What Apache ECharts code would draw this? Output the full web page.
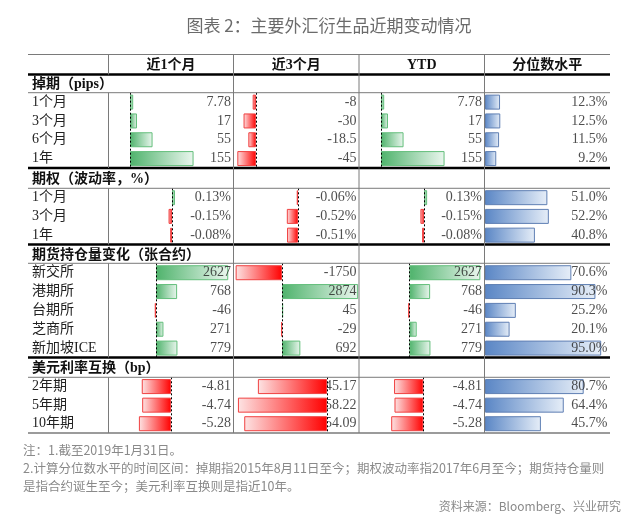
<!DOCTYPE html>
<html>
<head>
<meta charset="utf-8">
<script src="https://cdn.jsdelivr.net/npm/echarts@6/dist/echarts.min.js"></script>
<style>
  html, body { margin: 0; padding: 0; background: #fff; }
  #main { width: 640px; height: 521px; }
</style>
</head>
<body>
<div id="main"></div>
<script>
// 表头
var colHeads = ['近1个月', '近3个月', 'YTD', '分位数水平'];

// 掉期（pips）
var swapRows = ['1个月', '3个月', '6个月', '1年'];
var swap1m = [7.78, 17, 55, 155];
var swap3m = [-8, -30, -18.5, -45];
var swapYtd = [7.78, 17, 55, 155];
var swapPct = [12.3, 12.5, 11.5, 9.2];

// 期权（波动率，%）
var optRows = ['1个月', '3个月', '1年'];
var opt1m = [0.13, -0.15, -0.08];
var opt3m = [-0.06, -0.52, -0.51];
var optYtd = [0.13, -0.15, -0.08];
var optPct = [51.0, 52.2, 40.8];

// 期货持仓量变化（张合约）
var futRows = ['新交所', '港期所', '台期所', '芝商所', '新加坡ICE'];
var fut1m = [2627, 768, -46, 271, 779];
var fut3m = [-1750, 2874, 45, -29, 692];
var futYtd = [2627, 768, -46, 271, 779];
var futPct = [70.6, 90.3, 25.2, 20.1, 95.0];

// 美元利率互换（bp）
var irsRows = ['2年期', '5年期', '10年期'];
var irs1m = [-4.81, -4.74, -5.28];
var irs3m = [-45.17, -58.22, -54.09];
var irsYtd = [-4.81, -4.74, -5.28];
var irsPct = [80.7, 64.4, 45.7];

var notes = [
  '注：1.截至2019年1月31日。',
  '2.计算分位数水平的时间区间：掉期指2015年8月11日至今；期权波动率指2017年6月至今；期货持仓量则',
  '是指合约诞生至今；美元利率互换则是指近10年。'
];
var source = '资料来源：Bloomberg、兴业研究';

// 版式
var colX = [108.5, 233.5, 359, 484.5, 610];
var tableL = 28;
var serif = "'Liberation Serif', 'Noto Sans CJK SC', serif";
var sans = "'Noto Sans CJK SC', sans-serif";

var sections = [
  { name: '掉期（pips）', hdrY: 84.5, top: 92.7, bottom: 168,
    rows: swapRows, cols: [swap1m, swap3m, swapYtd, swapPct],
    fmt: function (v) { return String(v); },
    zero: [130, 256, 381], scale: [0.41, 0.415, 0.41] },
  { name: '期权（波动率，%）', hdrY: 179.5, top: 188.3, bottom: 244.5,
    rows: optRows, cols: [opt1m, opt3m, optYtd, optPct],
    fmt: function (v) { return v.toFixed(2) + '%'; },
    zero: [172, 298, 424], scale: [23, 21.5, 24] },
  { name: '期货持仓量变化（张合约）', hdrY: 255.5, top: 263.3, bottom: 357.5,
    rows: futRows, cols: [fut1m, fut3m, futYtd, futPct],
    fmt: function (v) { return String(v); },
    zero: [156, 282, 409.4], scale: [0.0275, 0.0265, 0.027] },
  { name: '美元利率互换（bp）', hdrY: 368, top: 377.3, bottom: 433,
    rows: irsRows, cols: [irs1m, irs3m, irsYtd, irsPct],
    fmt: function (v) { return v.toFixed(2); },
    zero: [171, 327, 423.4], scale: [6.08, 1.53, 6.1], under: 1 }
];

function grad(c1, c2) {
  return new echarts.graphic.LinearGradient(0, 0, 1, 0, [
    { offset: 0, color: c1 }, { offset: 1, color: c2 }
  ]);
}

function barStyle(v, c) {
  if (c === 3) {
    return { color: grad('#5a86c5', '#e6eef8'), borderColor: '#5f7fb3', borderWidth: 1 };
  }
  if (v >= 0) {
    return { color: grad('#4fb36c', '#eaf6ee'), borderColor: '#63be7b', borderWidth: 1 };
  }
  return { color: grad('#fde4e4', '#ff0000'), borderColor: '#f04040', borderWidth: 1 };
}

var grids = [], xAxes = [], yAxes = [], series = [];

sections.forEach(function (sec) {
  for (var c = 0; c < 4; c++) {
    var L = colX[c] + 0.5, R = colX[c + 1] - 0.5;
    var z = c < 3 ? sec.zero[c] : L;
    var s = c < 3 ? sec.scale[c] : 1.223;
    var min = (L - z) / s, max = (R - z) / s;
    var gi = grids.length;
    var vals = sec.cols[c];
    var fmt = c < 3 ? sec.fmt : function (v) { return v.toFixed(1) + '%'; };

    grids.push({ left: L, top: sec.top, width: R - L, height: sec.bottom - sec.top });
    xAxes.push({ type: 'value', gridIndex: gi, min: min, max: max, show: false });
    yAxes.push({
      type: 'category', gridIndex: gi, data: sec.rows, inverse: true,
      axisLine: { show: false, onZero: false }, axisTick: { show: false },
      splitLine: { show: false },
      axisLabel: c === 0 ? {
        show: true, align: 'left', margin: L - 32,
        fontFamily: serif, fontSize: 14, color: '#222'
      } : { show: false }
    });

    var bar = {
      type: 'bar', xAxisIndex: gi, yAxisIndex: gi, barWidth: 15, z: 2,
      data: vals.map(function (v) { return { value: v, itemStyle: barStyle(v, c) }; })
    };
    if (c < 3) {
      bar.markLine = {
        silent: true, symbol: 'none', label: { show: false },
        lineStyle: { color: '#000', type: [2, 2], width: 1 },
        data: [{ xAxis: 0 }]
      };
    }
    series.push(bar);

    (function (vals, fmt) {
      series.push({
        type: 'scatter', xAxisIndex: gi, yAxisIndex: gi, symbolSize: 0, silent: true,
        z: (sec.under && c === 1) ? 1 : 3,
        data: vals.map(function (v, i) { return [max, i]; }),
        label: {
          show: true, position: 'left', distance: 2,
          fontFamily: serif, fontSize: 14, color: '#222',
          formatter: function (p) { return fmt(vals[p.dataIndex]); }
        }
      });
    })(vals, fmt);
  }
});

// 表格线与文字
var graphic = [];
function hline(y, w, color) {
  graphic.push({ type: 'line', z: 10, shape: { x1: tableL, y1: y, x2: colX[4], y2: y },
    style: { stroke: color, lineWidth: w } });
}
function vline(x, y1, y2) {
  graphic.push({ type: 'line', z: 10, shape: { x1: x, y1: y1, x2: x, y2: y2 },
    style: { stroke: '#7a7a7a', lineWidth: 1 } });
}
function text(t, x, y, opt) {
  graphic.push({ type: 'text', z: 11, x: x, y: y, style: Object.assign({
    text: t, fontFamily: serif, fontSize: 14, fill: '#222',
    align: 'left', verticalAlign: 'middle'
  }, opt || {}) });
}

hline(54.5, 1, '#7a7a7a');
hline(74.5, 2.5, '#000');
sections.forEach(function (sec) {
  hline(sec.top, 1, '#7a7a7a');
  if (sec.bottom < 430) hline(sec.bottom, 2.5, '#000');
  vline(colX[0], sec.top, sec.bottom);
  text(sec.name, 32, sec.hdrY, { fontWeight: 'bold', fill: '#111' });
});
hline(433, 1.5, '#7a7a7a');
vline(colX[0], 54.5, 74.5);
for (var k = 1; k < 4; k++) vline(colX[k], 54.5, 433);

colHeads.forEach(function (h, i) {
  text(h, (colX[i] + colX[i + 1]) / 2, 65, { align: 'center', fontWeight: 'bold', fill: '#111' });
});

text('图表 2：主要外汇衍生品近期变动情况', 329, 26,
  { align: 'center', fontFamily: sans, fontSize: 17, fill: '#6b6b6b' });
notes.forEach(function (n, i) {
  text(n, 23, 450 + i * 18, { fontFamily: sans, fontSize: 12.5, fill: '#8a8a8a' });
});
text(source, 621, 506, { align: 'right', fontFamily: sans, fontSize: 12, fill: '#8a8a8a' });

var chart = echarts.init(document.getElementById('main'));
chart.setOption({
  animation: false,
  backgroundColor: '#fff',
  grid: grids,
  xAxis: xAxes,
  yAxis: yAxes,
  series: series,
  graphic: graphic
});
</script>
</body>
</html>
